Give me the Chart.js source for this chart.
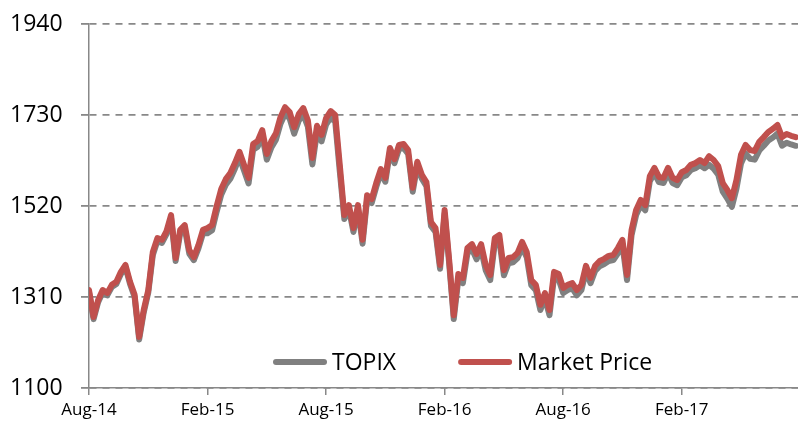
<!DOCTYPE html>
<html>
<head>
<meta charset="utf-8">
<script src="https://cdn.jsdelivr.net/npm/chart.js@4.4.1/dist/chart.umd.min.js"></script>
<style>
  html, body { margin: 0; padding: 0; background: #fff; }
  #wrap { width: 798px; height: 424px; }
</style>
</head>
<body>
<div id="wrap"><canvas id="topixChart" width="798" height="424"></canvas></div>
<script>
// Weekly readings, Aug-14 .. Jul-17 (week index = position in array)
const tickWeeks = [0, 26, 52, 78, 104, 130];
const tickLabels = ['Aug-14', 'Feb-15', 'Aug-15', 'Feb-16', 'Aug-16', 'Feb-17'];
const yTicks = [1100, 1310, 1520, 1730, 1940];

const marketPrice = [
    1326, 1264, 1303, 1326, 1319, 1338, 1345, 1368, 1384, 1345,
    1315, 1218, 1280, 1326, 1414, 1446, 1442, 1462, 1499, 1400,
    1465, 1476, 1418, 1402, 1430, 1465, 1469, 1476, 1520, 1559,
    1582, 1596, 1619, 1645, 1615, 1585, 1663, 1670, 1695, 1640,
    1670, 1688, 1725, 1748, 1737, 1702, 1732, 1746, 1718, 1631,
    1705, 1684, 1723, 1739, 1730, 1615, 1499, 1522, 1469, 1522,
    1442, 1545, 1536, 1573, 1605, 1585, 1654, 1628, 1661, 1663,
    1649, 1562, 1622, 1592, 1575, 1483, 1469, 1384, 1511, 1395,
    1268, 1363, 1354, 1423, 1432, 1409, 1432, 1384, 1361, 1446,
    1453, 1372, 1400, 1402, 1412, 1437, 1414, 1349, 1338, 1292,
    1319, 1280, 1368, 1363, 1331, 1338, 1342, 1326, 1338, 1382,
    1354, 1382, 1393, 1398, 1405, 1407, 1423, 1442, 1361, 1465,
    1511, 1534, 1522, 1589, 1608, 1587, 1585, 1608, 1585, 1580,
    1598, 1603, 1615, 1619, 1626, 1619, 1635, 1626, 1612, 1573,
    1557, 1538, 1580, 1638, 1661, 1649, 1647, 1668, 1679, 1691,
    1698, 1707, 1679, 1686, 1682, 1679
];

const topix = [
    1321, 1259, 1298, 1321, 1314, 1333, 1340, 1363, 1379, 1340,
    1310, 1212, 1274, 1320, 1407, 1439, 1435, 1455, 1492, 1393,
    1457, 1468, 1410, 1395, 1422, 1457, 1457, 1464, 1507, 1546,
    1569, 1583, 1606, 1632, 1602, 1572, 1650, 1657, 1682, 1627,
    1655, 1673, 1710, 1733, 1722, 1687, 1717, 1731, 1703, 1616,
    1690, 1669, 1708, 1724, 1715, 1600, 1490, 1513, 1460, 1513,
    1433, 1536, 1527, 1564, 1596, 1576, 1645, 1619, 1652, 1654,
    1640, 1553, 1613, 1583, 1566, 1474, 1460, 1375, 1502, 1386,
    1259, 1351, 1342, 1411, 1420, 1397, 1420, 1372, 1349, 1434,
    1441, 1360, 1388, 1390, 1400, 1425, 1402, 1337, 1326, 1280,
    1307, 1268, 1356, 1351, 1319, 1326, 1330, 1314, 1326, 1370,
    1342, 1370, 1381, 1386, 1393, 1395, 1411, 1430, 1349, 1453,
    1499, 1522, 1510, 1577, 1596, 1575, 1573, 1596, 1573, 1568,
    1586, 1591, 1603, 1607, 1614, 1607, 1615, 1606, 1592, 1553,
    1537, 1518, 1560, 1618, 1641, 1629, 1627, 1648, 1659, 1671,
    1678, 1687, 1659, 1666, 1662, 1659
];

const GRAY = '#808080';
const RED = '#C0504D';
const AXIS = '#888888';

const toPoints = (arr) => arr.map((v, i) => ({ x: i, y: v }));

// Legend drawn inside the plot, bottom centre (as in the original)
const insideLegend = {
    id: 'insideLegend',
    afterDatasetsDraw(chart) {
        const { ctx, chartArea } = chart;
        const y = chartArea.bottom - 26;
        let x = chartArea.left + 187;
        ctx.save();
        ctx.font = '23px "Open Sans"';
        ctx.textBaseline = 'middle';
        ctx.textAlign = 'left';
        const items = [chart.data.datasets[0], chart.data.datasets[1]];
        items.forEach((ds) => {
            ctx.strokeStyle = ds.borderColor;
            ctx.lineWidth = 6;
            ctx.lineCap = 'round';
            ctx.beginPath();
            ctx.moveTo(x, y);
            ctx.lineTo(x + 48, y);
            ctx.stroke();
            ctx.fillStyle = '#000';
            ctx.fillText(ds.label, x + 56, y + 1);
            x += 56 + ctx.measureText(ds.label).width + 65;
        });
        ctx.restore();
    }
};

const chartConfig = {
    type: 'line',
    data: {
        datasets: [{
            label: 'TOPIX',
            data: toPoints(topix),
            borderColor: GRAY,
            borderWidth: 6,
            pointRadius: 0,
            borderJoinStyle: 'round',
            borderCapStyle: 'round',
            order: 2
        }, {
            label: 'Market Price',
            data: toPoints(marketPrice),
            borderColor: RED,
            borderWidth: 6,
            pointRadius: 0,
            borderJoinStyle: 'round',
            borderCapStyle: 'round',
            order: 1
        }]
    },
    options: {
        responsive: false,
        animation: false,
        layout: { padding: { top: 24, right: 0, bottom: 0, left: 10 } },
        plugins: {
            legend: { display: false },
            tooltip: { enabled: false }
        },
        scales: {
            x: {
                type: 'linear',
                min: 0,
                max: 155.5,
                afterBuildTicks: (scale) => {
                    scale.ticks = tickWeeks.map(v => ({ value: v }));
                },
                afterFit: (scale) => { scale.height = 36; },
                ticks: {
                    autoSkip: false,
                    maxRotation: 0,
                    padding: 5,
                    color: '#000',
                    font: { family: 'Open Sans', size: 17 },
                    callback: (value, index) => tickLabels[index]
                },
                grid: {
                    drawOnChartArea: false,
                    drawTicks: true,
                    tickLength: 7,
                    color: AXIS,
                    lineWidth: 1.5
                },
                border: { color: AXIS, width: 1.5 }
            },
            y: {
                min: 1100,
                max: 1940,
                afterBuildTicks: (scale) => {
                    scale.ticks = yTicks.map(v => ({ value: v }));
                },
                afterFit: (scale) => { scale.width = 79; },
                ticks: {
                    padding: 0,
                    crossAlign: 'far',
                    color: '#000',
                    font: { family: 'Open Sans', size: 23 },
                    callback: (value) => String(value)
                },
                grid: {
                    color: AXIS,
                    lineWidth: 1.8,
                    tickLength: 8,
                    tickBorderDash: [7, 6]
                },
                border: { color: AXIS, width: 1.5, dash: [7, 6] }
            }
        }
    },
    plugins: [insideLegend]
};

const topixChartCtx = document.getElementById('topixChart');
if (topixChartCtx) {
    new Chart(topixChartCtx, chartConfig);
}
</script>
</body>
</html>
